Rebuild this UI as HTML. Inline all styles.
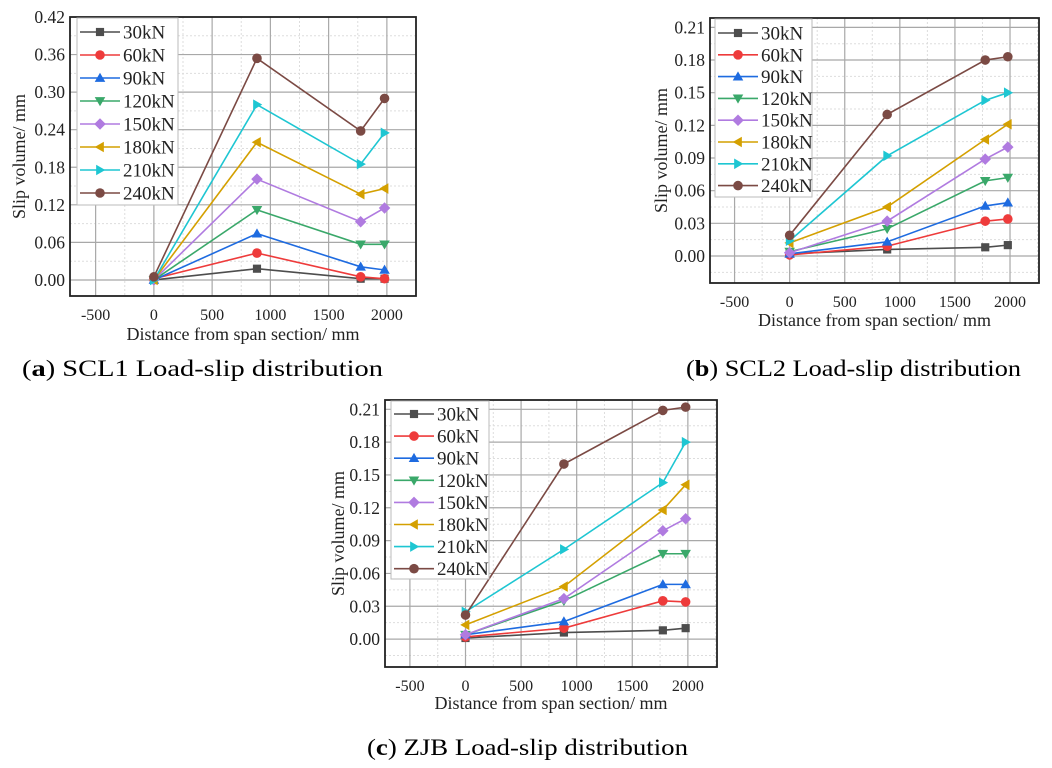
<!DOCTYPE html>
<html><head><meta charset="utf-8"><style>
html,body{margin:0;padding:0;background:#fff;}
svg{display:block;}
svg text{font-family:"Liberation Serif","Times New Roman",serif;}
</style></head><body>
<svg id="fig" width="1052" height="768" viewBox="0 0 1052 768" xmlns="http://www.w3.org/2000/svg" font-family="Liberation Serif, serif">
<text font-family="Liberation Serif, serif" x="22" y="376" font-size="23" textLength="361" lengthAdjust="spacingAndGlyphs">(<tspan font-weight="bold">a</tspan>) SCL1 Load-slip distribution</text>
<text font-family="Liberation Serif, serif" x="686" y="376" font-size="23" textLength="335" lengthAdjust="spacingAndGlyphs">(<tspan font-weight="bold">b</tspan>) SCL2 Load-slip distribution</text>
<text font-family="Liberation Serif, serif" x="367" y="755" font-size="23" textLength="321" lengthAdjust="spacingAndGlyphs">(<tspan font-weight="bold">c</tspan>) ZJB Load-slip distribution</text>
</svg>
<script>
const NS="http://www.w3.org/2000/svg";
const seriesNames=["30kN","60kN","90kN","120kN","150kN","180kN","210kN","240kN"];
const xPositions=[0,885,1775,1980];
const xTicks=[-500,0,500,1000,1500,2000];
const yTicksA=[0,0.06,0.12,0.18,0.24,0.30,0.36,0.42];
const yTicksBC=[0,0.03,0.06,0.09,0.12,0.15,0.18,0.21];
const valuesA=[
[0,0.018,0.002,0.002],
[0.002,0.043,0.005,0.002],
[0,0.074,0.021,0.016],
[0,0.112,0.057,0.057],
[0,0.161,0.093,0.115],
[0,0.220,0.137,0.146],
[0,0.280,0.185,0.235],
[0.005,0.354,0.238,0.290]];
const valuesB=[
[0.002,0.006,0.008,0.010],
[0.001,0.009,0.032,0.034],
[0.002,0.013,0.046,0.049],
[0.004,0.025,0.069,0.072],
[0.003,0.032,0.089,0.100],
[0.012,0.045,0.107,0.121],
[0.014,0.092,0.143,0.150],
[0.019,0.130,0.180,0.183]];
const valuesC=[
[0.001,0.006,0.008,0.010],
[0.002,0.010,0.035,0.034],
[0.004,0.016,0.050,0.050],
[0.004,0.035,0.078,0.078],
[0.004,0.037,0.099,0.110],
[0.013,0.048,0.118,0.141],
[0.025,0.082,0.143,0.180],
[0.022,0.160,0.209,0.212]];
const colors=["#4d4d4d","#ee3b3b","#1e6be0","#3aa86a","#b07be0","#d4a000","#1ec6d2","#7b4a44"];
const markers=["square","circle","up","down","diamond","left","right","circle"];
const FF="Liberation Serif, serif";
const svg=document.getElementById('fig');
function mk(tag,attrs,parent){const e=document.createElementNS(NS,tag);for(const k in attrs)e.setAttribute(k,attrs[k]);if(tag==='text')e.setAttribute('font-family',FF);(parent||svg).appendChild(e);return e;}
function marker(g,type,cx,cy,color,s){
  let e;
  if(type==="square")e=mk('rect',{x:cx-s*0.85,y:cy-s*0.85,width:s*1.7,height:s*1.7,fill:color},g);
  else if(type==="circle")e=mk('circle',{cx:cx,cy:cy,r:s,fill:color},g);
  else{let p;
    if(type==="up")p=[[cx,cy-s*1.1],[cx+s*1.1,cy+s*0.8],[cx-s*1.1,cy+s*0.8]];
    if(type==="down")p=[[cx,cy+s*1.1],[cx+s*1.1,cy-s*0.8],[cx-s*1.1,cy-s*0.8]];
    if(type==="left")p=[[cx-s*1.1,cy],[cx+s*0.8,cy-s*1.1],[cx+s*0.8,cy+s*1.1]];
    if(type==="right")p=[[cx+s*1.1,cy],[cx-s*0.8,cy-s*1.1],[cx-s*0.8,cy+s*1.1]];
    if(type==="diamond")p=[[cx,cy-s*1.2],[cx+s*1.2,cy],[cx,cy+s*1.2],[cx-s*1.2,cy]];
    e=mk('polygon',{points:p.map(q=>q.join(',')).join(' '),fill:color},g);}
  return e;
}
function chart(c){
  const g=mk('g',{});
  
  
  const sx=v=>c.L+(v-c.xmin)/(c.xmax-c.xmin)*(c.R-c.L);
  const sy=v=>c.B-(v-c.ymin)/(c.ymax-c.ymin)*(c.B-c.T);
  for(let i=0;i<xTicks.length;i++){const m=xTicks[i]+250;if(m<c.xmax){const x=sx(m);
    const l=mk('line',{x1:x,x2:x,y1:c.T,y2:c.B,stroke:"#ddd","stroke-dasharray":"2,2"},g);
    }}
  {const x=sx(xTicks[0]-250);if(x>c.L){const l=mk('line',{x1:x,x2:x,y1:c.T,y2:c.B,stroke:"#ddd","stroke-dasharray":"2,2"},g);
    }}
  const st=c.yt[1]-c.yt[0];
  for(let v=c.yt[0]-st/2;v<c.ymax;v+=st){if(v>c.ymin){const y=sy(v);
    const l=mk('line',{x1:c.L,x2:c.R,y1:y,y2:y,stroke:"#ddd","stroke-dasharray":"2,2"},g);
    }}
  xTicks.forEach(v=>{const x=sx(v);
    const l=mk('line',{x1:x,x2:x,y1:c.T,y2:c.B,stroke:"#a8a8a8","stroke-width":1.2},g);
    
    const t=mk('text',{x:x,y:c.B+24,"font-size":16,"text-anchor":"middle",fill:"#222"},g);t.textContent=v;
    });
  c.yt.forEach(v=>{const y=sy(v);
    const l=mk('line',{x1:c.L,x2:c.R,y1:y,y2:y,stroke:"#a8a8a8","stroke-width":1.2},g);
    
    const t=mk('text',{x:c.L-5,y:y+6,"font-size":17.5,"text-anchor":"end",fill:"#222"},g);t.textContent=v.toFixed(2);
    });
  const fr=mk('rect',{x:c.L,y:c.T,width:c.R-c.L,height:c.B-c.T,fill:"none",stroke:"#222","stroke-width":1.8},g);
  
  c.vals.forEach((vals,i)=>{
    const sg=mk('g',{},g);
    
    
    const pl=mk('polyline',{points:vals.map((v,j)=>sx(xPositions[j])+','+sy(v)).join(' '),fill:"none",stroke:colors[i],"stroke-width":1.6},sg);
    
    vals.forEach((v,j)=>{const m=marker(sg,markers[i],sx(xPositions[j]),sy(v),colors[i],4.8);
      });
  });
  const lg=mk('g',{},g);
  
  const lb=mk('rect',{x:c.lx,y:c.ly,width:c.lw,height:c.lh,fill:"#fff",stroke:"#bbb"},lg);
  
  seriesNames.forEach((n,i)=>{const y=c.ly+c.l0+i*c.ls;
    const e=mk('g',{},lg);
    
    mk('line',{x1:c.lx+3,x2:c.lx+43,y1:y,y2:y,stroke:colors[i],"stroke-width":1.6},e);
    marker(e,markers[i],c.lx+23,y,colors[i],4.8);
    const t=mk('text',{x:c.lx+46,y:y+6.5,"font-size":19,fill:"#222"},e);t.textContent=n;});
  const yt=mk('text',{transform:`translate(${c.ytx},${(c.T+c.B)/2}) rotate(-90)`,"font-size":18,"text-anchor":"middle",fill:"#222"},g);
  yt.textContent="Slip volume/ mm";
  const xt=mk('text',{x:(c.L+c.R)/2,y:c.xty,"font-size":18,"text-anchor":"middle",fill:"#222"},g);
  xt.textContent="Distance from span section/ mm";
}
chart({name:'chart-scl1',L:70,R:416,T:17,B:296,xmin:-720,xmax:2250,ymin:-0.0256,ymax:0.42,yt:yTicksA,vals:valuesA,lx:77,ly:18,lw:101,lh:187,l0:14,ls:23,ytx:25,xty:340});
chart({name:'chart-scl2',L:710,R:1039,T:18,B:283,xmin:-723,xmax:2263,ymin:-0.0248,ymax:0.2186,yt:yTicksBC,vals:valuesB,lx:715,ly:19,lw:97,lh:178,l0:14,ls:21.8,ytx:667,xty:326});
chart({name:'chart-zjb',L:385,R:717,T:400,B:667,xmin:-724,xmax:2262,ymin:-0.0255,ymax:0.2185,yt:yTicksBC,vals:valuesC,lx:391,ly:401,lw:98,lh:178,l0:13,ls:22.1,ytx:344,xty:709});
</script>
</body></html>
